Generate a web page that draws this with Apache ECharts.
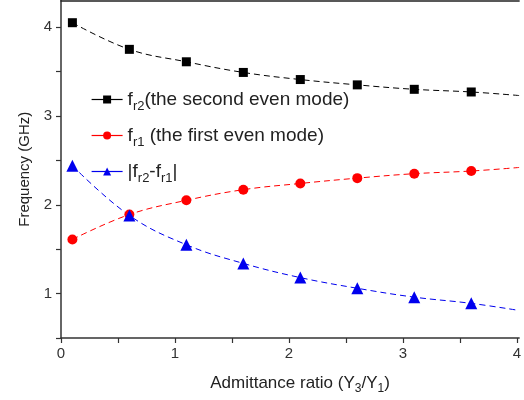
<!DOCTYPE html>
<html>
<head>
<meta charset="utf-8">
<script src="https://cdn.jsdelivr.net/npm/echarts@6/dist/echarts.min.js"></script>
<style>
  html, body { margin: 0; padding: 0; background: #fff; }
  #chart { width: 524px; height: 400px; }
</style>
</head>
<body>
<div id="chart"></div>
<script>
// admittance ratio at the measured points
var ratio = [0.1, 0.6, 1.1, 1.6, 2.1, 2.6, 3.1, 3.6];
var fr2 = [4.05, 3.75, 3.61, 3.49, 3.41, 3.35, 3.30, 3.27];
var fr1 = [1.61, 1.89, 2.05, 2.17, 2.24, 2.30, 2.35, 2.38];
var diff = [2.44, 1.88, 1.55, 1.34, 1.18, 1.06, 0.96, 0.89];
// where the fitted curves leave the picture (right edge)
var edgeX = 4.02;
var edgeFr2 = 3.23;
var edgeFr1 = 2.42;
var edgeDiff = 0.81;

var names = ['fr2', 'fr1', 'diff'];

function toData(ys, endY) {
    var d = ratio.map(function (x, i) { return [x, ys[i]]; });
    d.push({ value: [edgeX, endY], symbol: 'none' });
    return d;
}

var subStyle = { fontSize: 13, fontFamily: 'Liberation Sans', color: '#222', verticalAlign: 'bottom', lineHeight: 27 };
var mainStyle = { fontSize: 19, fontFamily: 'Liberation Sans', color: '#222', lineHeight: 24, verticalAlign: 'middle' };

var chart = echarts.init(document.getElementById('chart'));
var option = {
    animation: false,
    backgroundColor: '#fff',
    grid: { left: 61, top: 0.5, right: 0, bottom: 61.5 },
    legend: {
        orient: 'vertical',
        left: 86, top: 85,
        itemWidth: 31, itemHeight: 10,
        itemGap: 13,
        data: names,
        lineStyle: { type: 'solid', width: 1.2 },
        formatter: function (n) {
            if (n == 'fr2') return '{a|f}{s|r2}{a|(the second even mode)}';
            if (n == 'fr1') return '{a|f}{s|r1}{a| (the first even mode)}';
            return '{a||f}{s|r2}{a|-f}{s|r1}{a||}';
        },
        textStyle: { rich: { a: mainStyle, s: subStyle } }
    },
    xAxis: [{
        type: 'value', min: 0, max: edgeX, interval: 0.5,
        name: 'Admittance ratio (Y{s|3}/Y{s|1})',
        nameLocation: 'middle', nameGap: 33,
        nameTextStyle: {
            fontSize: 17, fontFamily: 'Liberation Sans', color: '#222', padding: [0, 0, 0, 20],
            rich: { s: { fontSize: 12, fontFamily: 'Liberation Sans', color: '#222', verticalAlign: 'bottom', lineHeight: 24 } }
        },
        axisLine: { lineStyle: { color: '#333', width: 1.5 } },
        axisTick: { inside: false, length: 5, lineStyle: { color: '#333', width: 1.2 } },
        axisLabel: {
            fontSize: 15, fontFamily: 'Liberation Sans', color: '#333', margin: 8,
            showMaxLabel: false,
            formatter: function (v) { return v % 1 == 0 ? v : ''; }
        },
        splitLine: { show: false }
    }, {
        type: 'value', position: 'top', min: 0, max: edgeX,
        axisLine: { show: true, lineStyle: { color: '#222', width: 1.5 } },
        axisTick: { show: false }, axisLabel: { show: false }, splitLine: { show: false }
    }],
    yAxis: {
        type: 'value', min: 0.5, max: 4.3, interval: 0.5,
        name: 'Frequency (GHz)',
        nameLocation: 'middle', nameGap: 27,
        nameTextStyle: { fontSize: 15, fontFamily: 'Liberation Sans', color: '#222' },
        axisLine: { lineStyle: { color: '#333', width: 1.5 } },
        axisTick: { inside: false, length: 5, lineStyle: { color: '#333', width: 1.2 } },
        axisLabel: {
            fontSize: 15, fontFamily: 'Liberation Sans', color: '#333', margin: 9,
            showMaxLabel: false,
            formatter: function (v) { return v % 1 == 0 ? v : ''; }
        },
        splitLine: { show: false }
    },
    series: [
        {
            name: 'fr2', type: 'line', smooth: 0.4, data: toData(fr2, edgeFr2),
            symbol: 'rect', symbolSize: 9, color: '#000',
            lineStyle: { color: '#000', width: 1, type: [6, 4] }
        },
        {
            name: 'fr1', type: 'line', smooth: 0.4, data: toData(fr1, edgeFr1),
            symbol: 'circle', symbolSize: 10, color: '#ff0000',
            lineStyle: { color: '#ff0000', width: 1, type: [6, 4] }
        },
        {
            name: 'diff', type: 'line', smooth: 0.4, data: toData(diff, edgeDiff),
            symbol: 'triangle', symbolSize: 12, color: '#0000ee',
            lineStyle: { color: '#0000ee', width: 1, type: [6, 4] }
        }
    ]
};
chart.setOption(option);
</script>
</body>
</html>
